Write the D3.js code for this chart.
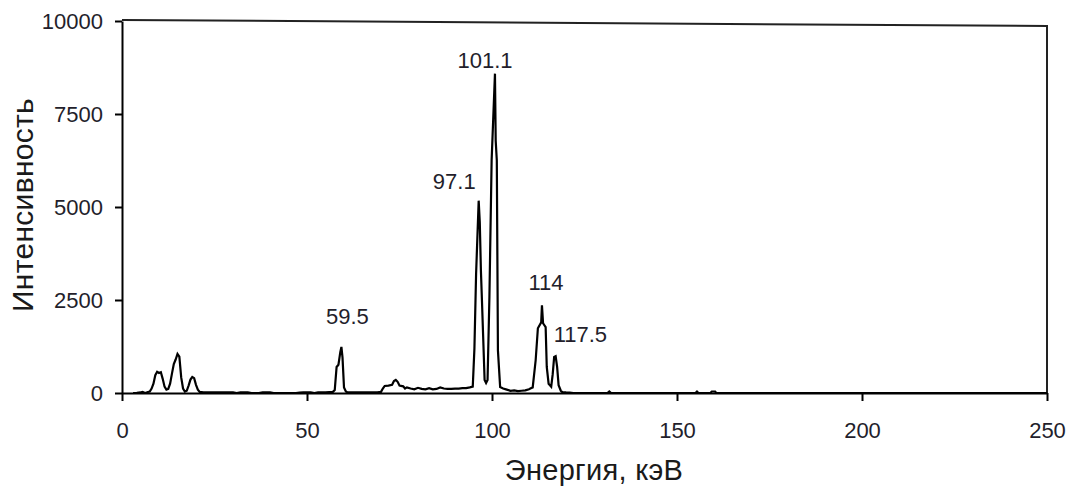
<!DOCTYPE html>
<html><head><meta charset="utf-8">
<script src="https://cdn.jsdelivr.net/npm/d3@7"></script>
<style>body{margin:0;background:#fff}</style>
</head><body><svg id="chart" width="1078" height="491"></svg>
<script>
// ---- data ----
const energyKeV = [3,4,5,5.5,6,6.5,7,7.5,8,8.5,9,9.5,10,10.5,11,11.5,12,12.5,13,13.5,14,14.5,15,15.5,16,16.5,17,17.5,18,18.5,19,19.5,20,20.5,21,22,24,26,28,30,31,32,34,35,37,38,40,41,47,48,49,51,52,53,55,57,57.5,58,58.5,59,59.3,59.6,60,60.5,61,63,66,69,70,70.5,71,72,73,73.5,74,74.5,75,76,76.5,77,78,79,80,81,82,83,84,85,86,87,88,89,90,91,92,93,94,94.8,95.25,95.7,96.4,96.7,97,97.3,98,98.4,98.8,99.3,99.9,100.8,101.0,101.3,101.6,102.2,103,104,105,106,107,108,109,110,110.5,111,111.8,112.4,113.3,113.5,113.8,114.5,114.8,115.3,116,116.4,116.8,117.2,117.6,118,118.6,119,120,121,122,131.2,131.7,132.2,155,155.4,155.8,159,159.4,160.3,160.6,250];
const intensity = [0,5,15,30,10,5,25,40,120,250,480,570,540,560,380,170,90,110,250,520,780,900,1050,980,420,120,40,60,200,360,430,400,220,90,30,15,20,15,20,15,0,15,20,0,0,20,15,0,0,10,20,15,0,15,20,30,80,700,760,1100,1240,950,150,40,15,20,20,20,30,120,190,200,220,320,350,300,200,180,120,150,120,100,140,110,100,130,100,110,150,120,110,110,120,120,130,130,150,170,1200,3200,5170,4580,3300,2440,350,270,350,2580,6250,8585,6780,6250,1150,160,120,90,60,70,50,60,70,100,125,150,880,1740,1900,2360,1875,1770,700,250,170,500,970,990,700,210,60,25,15,10,0,0,40,0,0,40,0,0,40,40,0,0];
const xTicks = [0,50,100,150,200,250];
const yTicks = [0,2500,5000,7500,10000];
const peakLabels = ["59.5","97.1","101.1","114","117.5"];
const peakEnergy = [59.3,96.4,100.8,113.5,117.2];
const peakIntensity = [1240,5170,8585,2360,990];
const xTitle = "Энергия, кэВ";
const yTitle = "Интенсивность";

// ---- layout / style ----
const M = {left:122, right:1047, top:21, bottom:393};
const labelStyle = [ // anchor, dx, dy relative to peak top
  {a:"middle", dx:6, dy:-23},
  {a:"end", dx:-3, dy:-12},
  {a:"middle", dx:-10, dy:-6},
  {a:"middle", dx:4, dy:-15},
  {a:"start", dx:-2, dy:-14}
];
const font = "'Liberation Sans', Arial, sans-serif";
const textColor = "#231e2b";

const svg = d3.select("#chart");
const x = d3.scaleLinear().domain([0,250]).range([M.left,M.right]);
const y = d3.scaleLinear().domain([0,10000]).range([M.bottom,M.top]);

// frame (top & right)
svg.append("path")
  .attr("d", `M${x(0)},${y(10000)-1}L${x(250)},${y(10000)+5}L${x(250)},${y(0)}`)
  .attr("fill","none").attr("stroke","#222").attr("stroke-width",2);

// spectrum line
const pts = energyKeV.map((e,i)=>[e,intensity[i]]);
svg.append("path").datum(pts)
  .attr("fill","none").attr("stroke","#000").attr("stroke-width",2.2)
  .attr("stroke-linejoin","miter")
  .attr("d", d3.line().x(d=>x(d[0])).y(d=>y(d[1])));

// axes
const gx = svg.append("g").attr("transform",`translate(0,${M.bottom})`)
  .call(d3.axisBottom(x).tickValues(xTicks).tickSize(8).tickSizeOuter(0).tickPadding(21).tickFormat(d3.format("d")));
const gy = svg.append("g").attr("transform",`translate(${M.left},0)`)
  .call(d3.axisLeft(y).tickValues(yTicks).tickSize(7).tickSizeOuter(0).tickPadding(12).tickFormat(d3.format("d")));
[gx,gy].forEach(g=>{
  g.select(".domain").attr("stroke","#000").attr("stroke-width",2);
  g.selectAll(".tick line").attr("stroke","#000").attr("stroke-width",2);
  g.selectAll(".tick text").attr("fill",textColor).style("font-family",font).style("font-size","22px");
});

// peak labels
svg.append("g").selectAll("text").data(peakLabels).join("text")
  .attr("x",(d,i)=>x(peakEnergy[i])+labelStyle[i].dx)
  .attr("y",(d,i)=>y(peakIntensity[i])+labelStyle[i].dy)
  .attr("text-anchor",(d,i)=>labelStyle[i].a)
  .attr("fill",textColor).style("font-family",font).style("font-size","22px")
  .text(d=>d);

// axis titles
svg.append("text").attr("x",594).attr("y",480).attr("text-anchor","middle")
  .attr("fill","#1a1a1a").style("font-family",font).style("font-size","29px")
  .style("letter-spacing","0.3px").text(xTitle);
svg.append("text").attr("transform","translate(33,205) rotate(-90)").attr("text-anchor","middle")
  .attr("fill","#1a1a1a").style("font-family",font).style("font-size","30px")
  .style("letter-spacing","0.3px").text(yTitle);
</script>
</body></html>
